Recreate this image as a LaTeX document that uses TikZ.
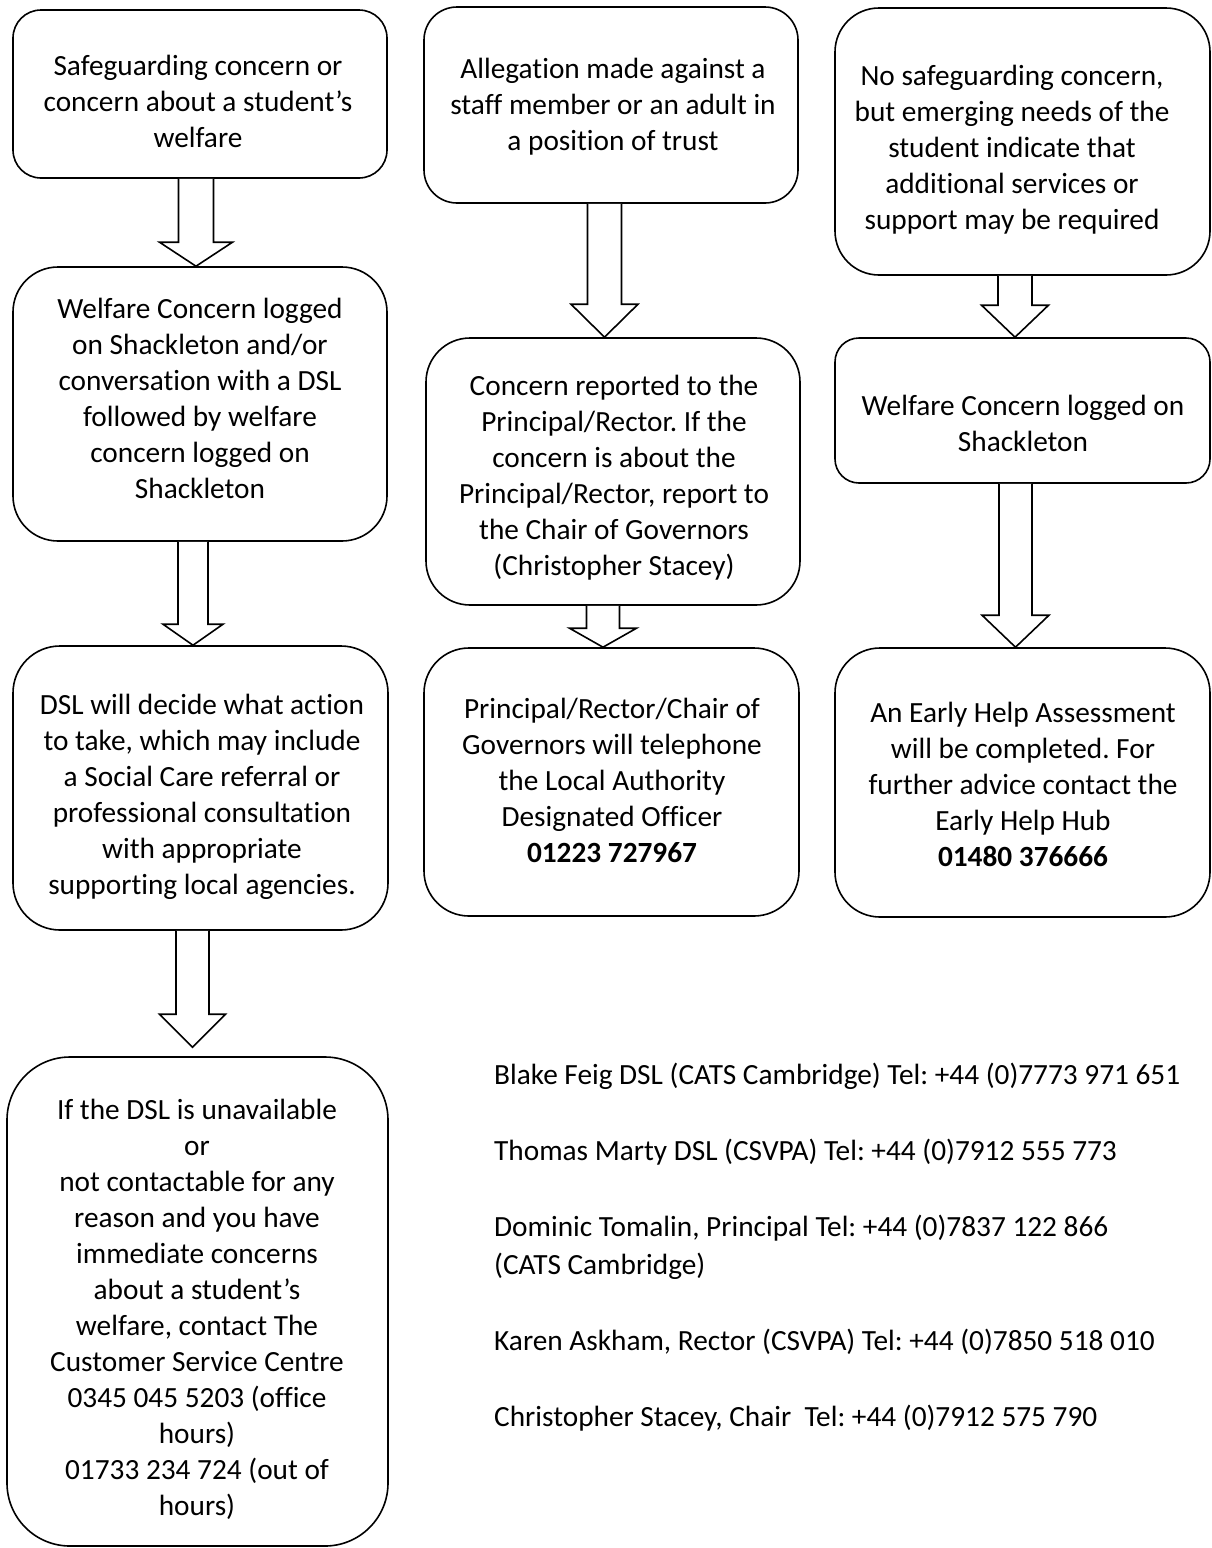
\documentclass[tikz,border=0pt]{standalone}
\usepackage{fontspec}
\setmainfont{Carlito}[Ligatures=NoCommon]
\usetikzlibrary{calc}
\frenchspacing
\tikzset{
  box/.style={draw, line width=1.6pt, rectangle, inner sep=0pt, fill=white},
  txt/.style={font=\fontsize{29.3}{36}\selectfont, align=center, inner sep=0pt},
  contact/.style={font=\fontsize{29.3}{38}\selectfont, align=left, inner sep=0pt, anchor=west},
  barrow/.style={draw, line width=1.6pt, fill=white, line join=miter}
}
% #1 from, #2 to, #3 centre x, #4 half shaft, #5 half head, #6 head length, #7 gap
\newcommand\blockarrow[7]{%
  \draw[barrow] let \p1=(#1.south), \p2=(#2.north) in
    (#3pt-#4pt,\y1) -- (#3pt-#4pt,\y2+#6pt+#7pt) -- (#3pt-#5pt,\y2+#6pt+#7pt)
    -- (#3pt,\y2+#7pt) -- (#3pt+#5pt,\y2+#6pt+#7pt) -- (#3pt+#4pt,\y2+#6pt+#7pt)
    -- (#3pt+#4pt,\y1);}
\begin{document}
\begin{tikzpicture}[x=1pt,y=-1pt]
\useasboundingbox (0,0) rectangle (1212,1548);
\fill[white] (0,0) rectangle (1212,1548);
% column A
\node[box, rounded corners=28pt, minimum width=374pt, minimum height=168pt] (a1) at (200,94) {};
\node[box, rounded corners=45pt, minimum width=374pt, minimum height=274pt] (a2) at (200,404) {};
\node[box, rounded corners=47pt, minimum width=375pt, minimum height=284pt] (a3) at (200.5,788) {};
\node[box, rounded corners=63pt, minimum width=381pt, minimum height=489pt] (a4) at (197.5,1301.5) {};
% column B
\node[box, rounded corners=33pt, minimum width=374pt, minimum height=196pt] (b1) at (611,105) {};
\node[box, rounded corners=44pt, minimum width=374pt, minimum height=267pt] (b2) at (613,471.5) {};
\node[box, rounded corners=45pt, minimum width=375pt, minimum height=268pt] (b3) at (611.5,782) {};
% column C
\node[box, rounded corners=44pt, minimum width=375pt, minimum height=267pt] (c1) at (1022.5,141.5) {};
\node[box, rounded corners=24pt, minimum width=375pt, minimum height=145pt] (c2) at (1022.5,410.5) {};
\node[box, rounded corners=45pt, minimum width=375pt, minimum height=269pt] (c3) at (1022.5,782.5) {};
% arrows
\blockarrow{a1}{a2}{196}{17.5}{36.5}{24}{0}
\blockarrow{a2}{a3}{193}{15}{30}{21}{0}
\blockarrow{a3}{a4}{192.5}{16.5}{33}{33}{9}
\blockarrow{b1}{b2}{604.5}{17}{33.5}{33}{0}
\blockarrow{b2}{b3}{603}{16.5}{33.5}{19}{0}
\blockarrow{c1}{c2}{1015}{17}{33.5}{32}{0}
\blockarrow{c2}{c3}{1015.5}{16.5}{33.5}{32}{0}
% texts
\node[txt] (ta1) at (198,101) {Safeguarding concern or\\concern about a student’s\\welfare};
\node[txt] (ta2) at (200,398) {Welfare Concern logged\\on Shackleton and/or\\conversation with a DSL\\followed by welfare\\concern logged on\\Shackleton};
\node[txt] (ta3) at (202,797) {DSL will decide what action\\to take, which may include\\a Social Care referral or\\professional consultation\\with appropriate\\supporting local agencies.};
\node[txt] (ta4) at (197,1309) {If the DSL is unavailable\\or\\not contactable for any\\reason and you have\\immediate concerns\\about a student’s\\welfare, contact The\\Customer Service Centre\\0345 045 5203 (office\\hours)\\01733 234 724 (out of\\hours)};
\node[txt] (tb1) at (613,107) {Allegation made against a\\staff member or an adult in\\a position of trust};
\node[txt] (tb2) at (614,477.5) {Concern reported to the\\Principal/Rector. If the\\concern is about the\\Principal/Rector, report to\\the Chair of Governors\\(Christopher Stacey)};
\node[txt] (tb3) at (612,780.5) {Principal/Rector/Chair of\\Governors will telephone\\the Local Authority\\Designated Officer\\\textbf{01223 727967}};
\node[txt] (tc1) at (1012,150) {No safeguarding concern,\\but emerging needs of the\\student indicate that\\additional services or\\support may be required};
\node[txt] (tc2) at (1023,423) {Welfare Concern logged on\\Shackleton};
\node[txt] (tc3) at (1023,784.5) {An Early Help Assessment\\will be completed. For\\further advice contact the\\Early Help Hub\\\textbf{01480 376666}};
% contacts
\node[contact] (k1) at (494,1076) {Blake Feig DSL (CATS Cambridge) Tel: +44 (0)7773 971 651};
\node[contact] (k2) at (494,1152) {Thomas Marty DSL (CSVPA) Tel: +44 (0)7912 555 773};
\node[contact] (k3) at (494,1247) {Dominic Tomalin, Principal Tel: +44 (0)7837 122 866\\(CATS Cambridge)};
\node[contact] (k4) at (494,1342) {Karen Askham, Rector (CSVPA) Tel: +44 (0)7850 518 010};
\node[contact] (k5) at (494,1418) {Christopher Stacey, Chair\ \ Tel: +44 (0)7912 575 790};
\end{tikzpicture}
\end{document}
